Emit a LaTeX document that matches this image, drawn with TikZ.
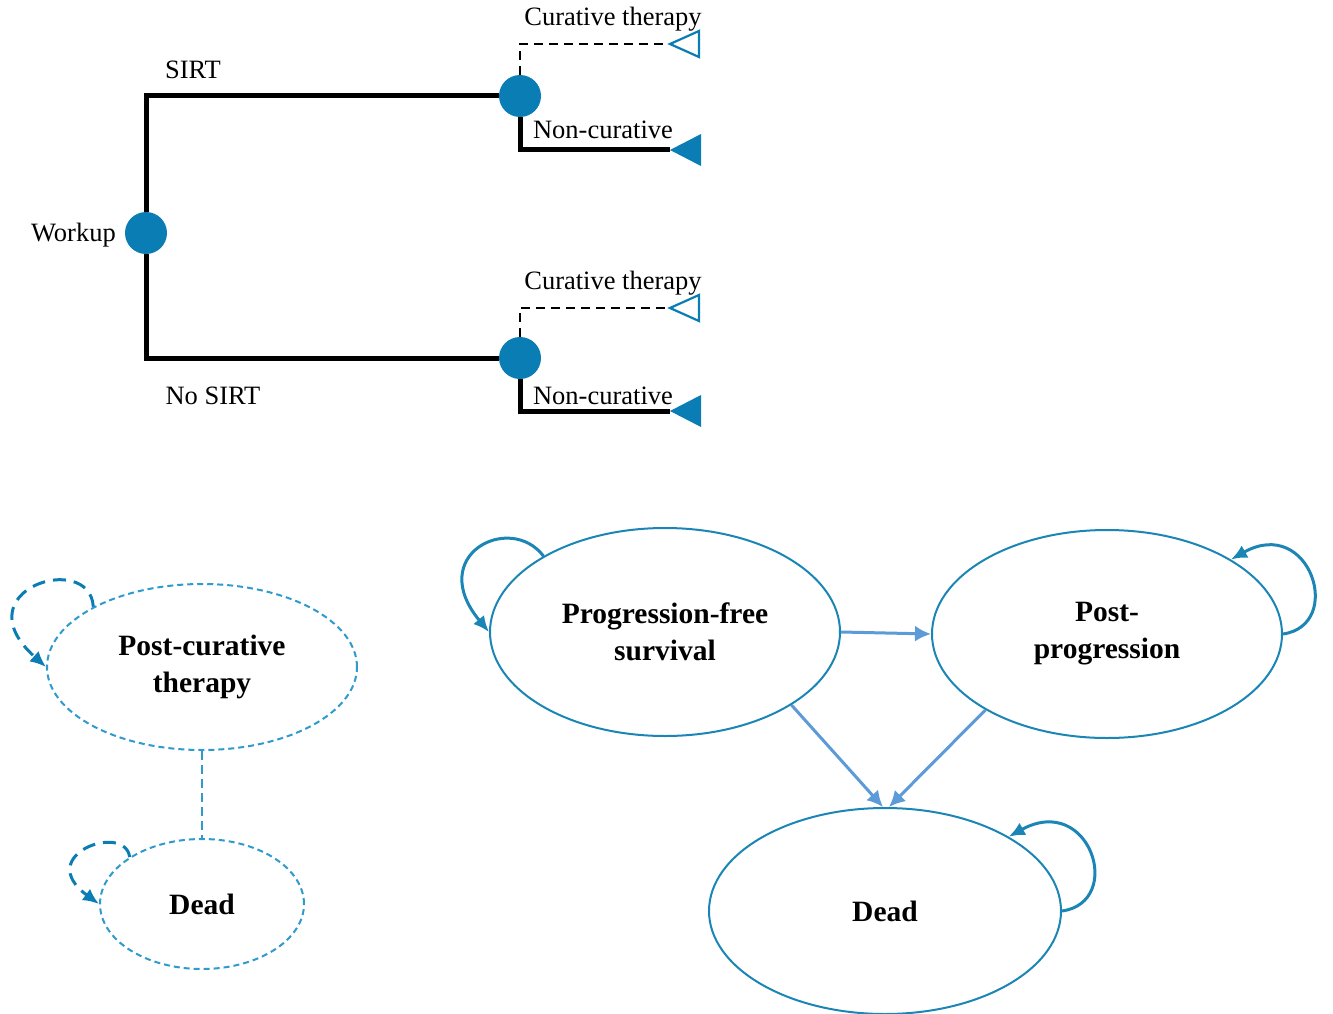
\documentclass[tikz,border=0pt]{standalone}
\usepackage{fontspec}
\setmainfont{Liberation Serif}
\usetikzlibrary{shapes.geometric,arrows.meta}
\definecolor{nodeblue}{HTML}{0A7DB4}
\definecolor{ellblue}{HTML}{1B86B6}
\definecolor{dashblue}{HTML}{2E9ACD}
\definecolor{arrblue}{HTML}{5C9BD8}
\tikzset{
  treeline/.style={line width=5pt, black, line join=miter},
  chancenode/.style={circle, fill=nodeblue, minimum size=42pt, inner sep=0pt},
  lbl/.style={font=\fontsize{26.5}{30}\selectfont, inner sep=0pt},
  state/.style={ellipse, draw=ellblue, line width=2pt, align=center, inner sep=0pt,
     font=\fontsize{29.5}{37}\selectfont\bfseries},
  dstate/.style={state, draw=dashblue, dash pattern=on 6pt off 4pt},
  trans/.style={draw=arrblue, line width=3pt, -{Latex[length=16pt,width=16pt]}},
  loopar/.style={draw=ellblue, line width=3pt, -{Latex[length=16pt,width=14pt]}},
  dloopar/.style={draw=nodeblue, line width=3pt, dash pattern=on 13pt off 8pt, -{Latex[length=16pt,width=14pt]}},
}
\begin{document}
\begin{tikzpicture}[x=1pt,y=-1pt]
\useasboundingbox[fill=white] (0,0) rectangle (1333,1014);
% ---------- decision tree ----------
\node[chancenode] (w) at (146,233) {};
\node[chancenode] (c1) at (520,96) {};
\node[chancenode] (c2) at (520,358) {};
\coordinate (t1) at (670,44);
\coordinate (t2) at (670,150);
\coordinate (t3) at (670,308);
\coordinate (t4) at (670,411);
\draw[treeline] (c1.west) -| (w.north);
\draw[treeline] (c2.west) -| (w.south);
\draw[black, line width=2pt, dash pattern=on 9pt off 6pt] (c1.north) |- (t1);
\draw[treeline] (c1.south) |- (t2);
\draw[black, line width=2pt, dash pattern=on 9pt off 6pt] (c2.north) |- (t3);
\draw[treeline] (c2.south) |- (t4);
\draw[draw=nodeblue, line width=2.2pt, fill=white] (t1) -- ++(29,-13) -- ++(0,26) -- cycle;
\fill[nodeblue] (t2) -- ++(31,-16) -- ++(0,32) -- cycle;
\draw[draw=nodeblue, line width=2.2pt, fill=white] (t3) -- ++(29,-13) -- ++(0,26) -- cycle;
\fill[nodeblue] (t4) -- ++(31,-16) -- ++(0,32) -- cycle;
\node[lbl] (lsirt) at (193,70) {SIRT};
\node[lbl] (lnosirt) at (213,396) {No SIRT};
\node[lbl, anchor=east] (lwork) at (116,235) {Workup};
\node[lbl] (lcur1) at (613,19) {Curative therapy};
\node[lbl] (lnon1) at (603,130) {Non-curative};
\node[lbl] (lcur2) at (613,283) {Curative therapy};
\node[lbl] (lnon2) at (603,396) {Non-curative};
% ---------- left Markov model ----------
\node[dstate, minimum width=310pt, minimum height=166pt] (pct) at (202,667) {Post-curative\\therapy};
\node[dstate, minimum width=204pt, minimum height=130pt] (dl) at (202,904) {Dead};
\draw[draw=dashblue, line width=2pt, dash pattern=on 9pt off 5pt] (pct.south) -- (dl.north);
\draw[dloopar] (pct.151) .. controls (90,550) and (-40,590) .. (pct.180);
\draw[dloopar] (dl.147) .. controls (125,822) and (32,855) .. (dl.180);
% ---------- right Markov model ----------
\node[state, minimum width=350pt, minimum height=208pt] (pfs) at (665,632) {Progression-free\\survival};
\node[state, minimum width=350pt, minimum height=208pt] (pp) at (1107,634) {Post-\\progression};
\node[state, minimum width=352pt, minimum height=206pt] (dr) at (885,911) {Dead};
\draw[trans] (pfs.east) -- (pp.west);
\draw[trans] (pfs.-30) -- ([xshift=-2pt]dr.north);
\draw[trans] (pp.-148) -- ([xshift=4pt]dr.north);
\draw[loopar] (pfs.148) .. controls (510,512) and (425,555) .. (pfs.180);
\draw[loopar] (pp.0) .. controls (1345,625) and (1310,515) .. (pp.31);
\draw[loopar] (dr.0) .. controls (1125,902) and (1090,792) .. (dr.31);
\end{tikzpicture}
\end{document}
